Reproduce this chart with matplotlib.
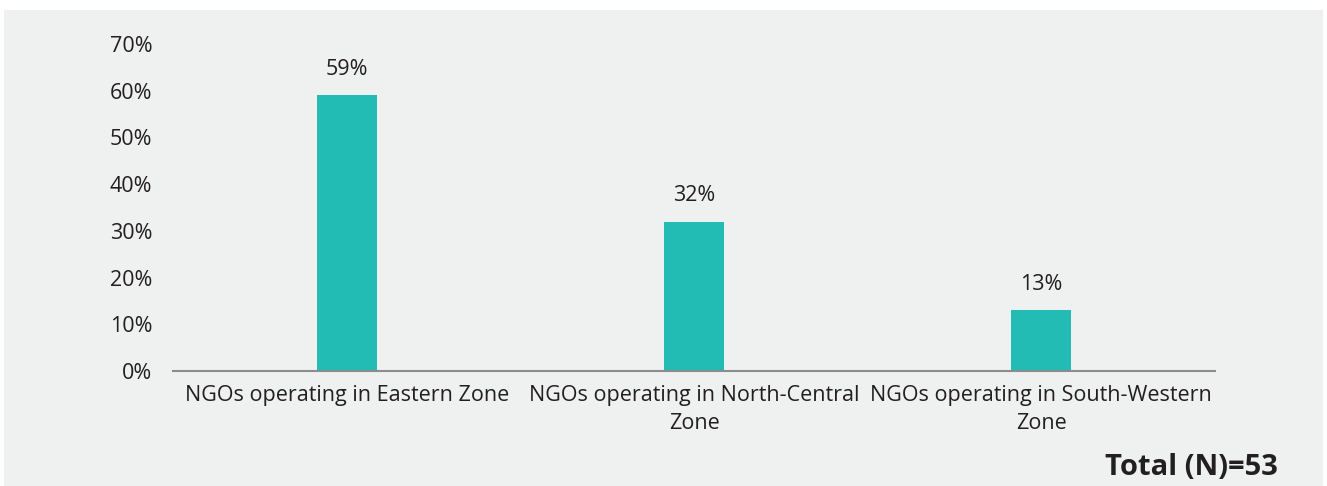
import matplotlib.pyplot as plt

categories = ["NGOs operating in Eastern Zone",
              "NGOs operating in North-Central\nZone",
              "NGOs operating in South-Western\nZone"]
values = [59, 32, 13]
yticks = [0, 10, 20, 30, 40, 50, 60, 70]

plt.rcParams['font.family'] = ['Open Sans', 'DejaVu Sans']

fig = plt.figure(figsize=(13.27, 4.86), dpi=100)
fig.patch.set_facecolor('white')

# light grey panel behind the chart
bg = fig.add_axes([4 / 1327, 0, 1319 / 1327, 476 / 486])
bg.set_facecolor('#eff0f0')
bg.set_xticks([])
bg.set_yticks([])
for s in bg.spines.values():
    s.set_visible(False)

ax = fig.add_axes([0.1304, 0.2366, 0.7852, 0.6729])
ax.set_facecolor('none')

x = range(len(categories))
ax.bar(x, values, width=0.173, color='#22bcb5')
for i, v in zip(x, values):
    ax.text(i, v + 3.3, f"{v}%", ha='center', va='bottom', fontsize=15.5, color='#231f20')

ax.set_xlim(-0.5, 2.5)
ax.set_ylim(0, 70)
ax.set_yticks(yticks)
ax.set_yticklabels([f"{t}%" for t in yticks], fontsize=15.5, color='#231f20')
ax.set_xticks(list(x))
ax.set_xticklabels(categories, fontsize=15.5, color='#231f20', linespacing=1.45)
ax.tick_params(axis='both', length=0)
ax.tick_params(axis='y', pad=15)
ax.tick_params(axis='x', pad=10)

for s in ['top', 'right', 'left']:
    ax.spines[s].set_visible(False)
ax.spines['bottom'].set_color('#8c8c8c')
ax.spines['bottom'].set_linewidth(1.5)

fig.text(1278 / 1327, 1 - 467 / 486, "Total (N)=53", ha='right', va='center',
         fontsize=21, fontweight='bold', color='#231f20')

fig.savefig('out.png', dpi=100)
